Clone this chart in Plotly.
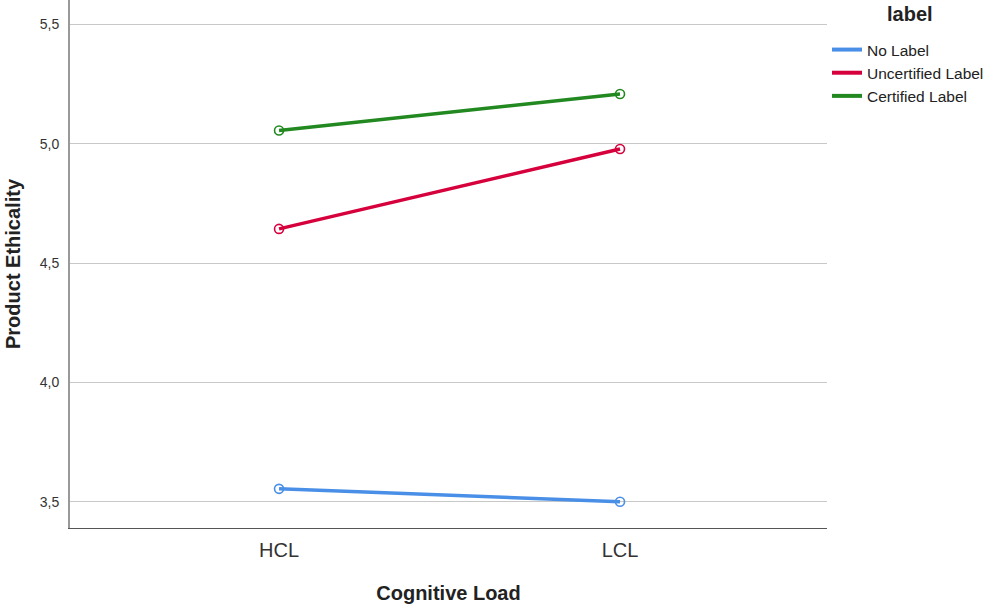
import plotly.graph_objects as go

categories = ["HCL", "LCL"]
no_label = [3.554, 3.500]
uncertified_label = [4.643, 4.978]
certified_label = [5.055, 5.208]
series_names = ["No Label", "Uncertified Label", "Certified Label"]
series_colors = ["#4A8FE7", "#D6003C", "#21891F"]
ytick_vals = [3.5, 4.0, 4.5, 5.0, 5.5]
ytick_text = ["3,5", "4,0", "4,5", "5,0", "5,5"]

FONT = "Liberation Sans, Arial, sans-serif"

fig = go.Figure()
for name, vals, col in zip(series_names, [no_label, uncertified_label, certified_label], series_colors):
    fig.add_trace(go.Scatter(
        x=[0, 1], y=vals, mode="lines+markers", name=name,
        line=dict(color=col, width=3.5),
        marker=dict(symbol="circle-open", size=9, color=col, line=dict(width=1.6, color=col)),
        hoverinfo="skip", showlegend=False,
    ))
# legend entries (line only, as in the reference legend)
for name, col in zip(series_names, series_colors):
    fig.add_trace(go.Scatter(
        x=[None], y=[None], mode="lines", name=name,
        line=dict(color=col, width=4), showlegend=True, hoverinfo="skip",
    ))

fig.update_layout(
    width=997, height=606,
    margin=dict(l=70, r=170, t=0, b=78, autoexpand=False),
    paper_bgcolor="white", plot_bgcolor="white",
    font=dict(family=FONT, color="#222222"),
    showlegend=True,
    legend=dict(
        x=1.0, xanchor="left", y=1 - 33 / 528, yanchor="top",
        xref="paper", yref="paper",
        font=dict(size=15.5, family=FONT, color="#222222"),
        itemwidth=30, tracegroupgap=0,
        bgcolor="rgba(0,0,0,0)",
    ),
    xaxis=dict(
        range=[-0.613, 1.607],
        tickvals=[0, 1], ticktext=categories,
        showgrid=False, zeroline=False,
        showline=True, linecolor="#555555", linewidth=1.3,
        ticks="", tickfont=dict(size=20, family=FONT, color="#333333"),
        ticklabelstandoff=4,
        title=dict(text="<b>Cognitive Load</b>", font=dict(size=20, family=FONT, color="#222222"), standoff=25),
        automargin=False,
    ),
    yaxis=dict(
        range=[3.39, 5.602],
        tickvals=ytick_vals, ticktext=ytick_text,
        showgrid=True, gridcolor="#C8C8C8", gridwidth=1.3,
        zeroline=False,
        showline=True, linecolor="#999999", linewidth=2,
        ticks="", tickfont=dict(size=14, family=FONT, color="#333333"),
        ticklabelstandoff=6,
        title=dict(text="<b>Product Ethicality</b>", font=dict(size=20, family=FONT, color="#222222"), standoff=14),
        automargin=False,
    ),
    annotations=[dict(
        text="<b>label</b>", xref="paper", yref="paper",
        x=(910 - 70) / 757, y=1 - 14 / 528, xanchor="center", yanchor="middle",
        showarrow=False, font=dict(size=20, family=FONT, color="#222222"),
    )],
)

fig.write_html("out.html", config={"displayModeBar": False},
               post_script="document.body.style.margin='0';")
